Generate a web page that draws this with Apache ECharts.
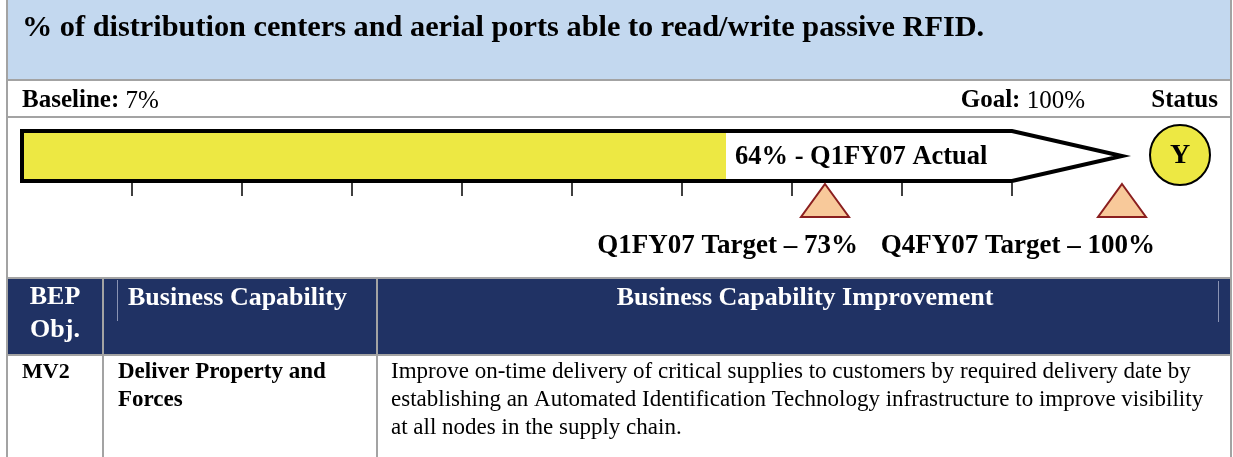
<!DOCTYPE html>
<html>
<head>
<meta charset="utf-8">
<script src="https://cdn.jsdelivr.net/npm/echarts@6/dist/echarts.min.js"></script>
<style>
  html, body { margin: 0; padding: 0; background: #fff; }
  #main { width: 1233px; height: 457px; }
</style>
</head>
<body>
<div id="main"></div>
<script>
var titleText = '% of distribution centers and aerial ports able to read/write passive RFID.';
var baselineValue = 7;
var goalValue = 100;
var actualValue = 64;
var actualLabel = '64% - Q1FY07 Actual';
var shaftEnd = 90; // where the arrow body stops and the point starts
var tickValues = [10, 20, 30, 40, 50, 60, 70, 80, 90];
var targetValues = [73, 100];
var targetLabels = ['Q1FY07 Target \u2013 73%', 'Q4FY07 Target \u2013 100%'];
var statusText = 'Y';
var headers = ['BEP\nObj.', 'Business Capability', 'Business Capability Improvement'];
var rowCells = ['MV2', 'Deliver Property and\nForces',
  'Improve on-time delivery of critical supplies to customers by required delivery date by\n' +
  'establishing an Automated Identification Technology infrastructure to improve visibility\n' +
  'at all nodes in the supply chain.'];

var FONT = '"Liberation Serif", "DejaVu Serif", serif';
var GRAY = '#a3a3a3';
var NAVY = '#203264';
var YELLOW = '#ede843';

var myChart = echarts.init(document.getElementById('main'));

function txt(text, x, y, size, opts) {
    opts = opts || {};
    return {
        type: 'text',
        z: 5,
        style: {
            text: text,
            x: x,
            y: y,
            fill: opts.fill || '#000',
            font: (opts.weight || 'bold') + ' ' + size + 'px ' + FONT,
            align: opts.align || 'left',
            textAlign: opts.align || 'left',
            verticalAlign: 'middle',
            textVerticalAlign: 'middle',
            lineHeight: opts.lineHeight || size * 1.2
        }
    };
}
function labelValue(label, value, x, y, size, align) {
    return {
        type: 'text', z: 5,
        style: {
            x: x, y: y, align: align, textAlign: align,
            verticalAlign: 'middle', textVerticalAlign: 'middle',
            text: '{b|' + label + ' }{r|' + value + '%}',
            rich: {
                b: { font: 'bold ' + size + 'px ' + FONT, fill: '#000' },
                r: { font: size + 'px ' + FONT, fill: '#000' }
            }
        }
    };
}
function hline(y, x1, x2, color, w) {
    return { type: 'line', z: 3, shape: { x1: x1, y1: y, x2: x2, y2: y },
        style: { stroke: color || GRAY, lineWidth: w || 2 } };
}
function vline(x, y1, y2, color, w) {
    return { type: 'line', z: 3, shape: { x1: x, y1: y1, x2: x, y2: y2 },
        style: { stroke: color || GRAY, lineWidth: w || 2 } };
}

var graphics = [
    // title band
    { type: 'rect', z: 1, shape: { x: 6, y: 0, width: 1225, height: 80 }, style: { fill: '#c3d8ef' } },
    // table header band
    { type: 'rect', z: 1, shape: { x: 6, y: 279, width: 1225, height: 76 }, style: { fill: NAVY } },
    hline(80, 6, 1232), hline(117, 6, 1232), hline(278, 6, 1232), hline(355, 6, 1232),
    vline(7, 0, 457), vline(1231, 0, 457),
    vline(103, 279, 457), vline(377, 279, 457),
    vline(117.5, 280, 321, '#8a93b3', 1), vline(1218.5, 281, 322, '#8a93b3', 1),
    txt(titleText, 22, 28, 30.3),
    labelValue('Baseline:', baselineValue, 22, 101, 25, 'left'),
    labelValue('Goal:', goalValue, 1085, 101, 25, 'right'),
    txt('Status', 1218, 101, 25, { align: 'right' }),
    // status circle
    { type: 'circle', z: 5, shape: { cx: 1180, cy: 155, r: 30 }, style: { fill: YELLOW, stroke: '#000', lineWidth: 2 } },
    txt(statusText, 1180, 156, 28, { align: 'center' }),
    // table header text
    txt(headers[0], 55, 314, 26, { align: 'center', fill: '#fff', lineHeight: 33 }),
    txt(headers[1], 128, 298, 26, { fill: '#fff' }),
    txt(headers[2], 805, 298, 26, { align: 'center', fill: '#fff' }),
    // data row
    txt(rowCells[0], 22, 372, 22),
    txt(rowCells[1], 118, 386, 23, { lineHeight: 28 }),
    txt(rowCells[2], 391, 400, 23, { weight: 'normal', lineHeight: 28 })
];

var option = {
    animation: false,
    grid: { left: 22, right: 111, top: 131, height: 50 },
    xAxis: { type: 'value', min: 0, max: 100, show: false },
    yAxis: { type: 'value', min: 0, max: 1, show: false },
    graphic: { elements: graphics },
    series: [
        {
            // arrow body, actual fill and its label
            type: 'custom',
            data: [[actualValue]],
            renderItem: function (params, api) {
                var x0 = api.coord([0, 0])[0];
                var xs = api.coord([shaftEnd, 0])[0];
                var xt = api.coord([100, 0])[0];
                var xa = api.coord([api.value(0), 0])[0];
                var yTop = api.coord([0, 1])[1];
                var yBot = api.coord([0, 0])[1];
                var yMid = (yTop + yBot) / 2;
                var pts = [[x0, yTop], [xs, yTop], [xt, yMid], [xs, yBot], [x0, yBot]];
                return {
                    type: 'group',
                    children: [
                        { type: 'polygon', shape: { points: pts }, style: { fill: '#fff', stroke: null } },
                        { type: 'rect', shape: { x: x0, y: yTop, width: xa - x0, height: yBot - yTop },
                            style: { fill: YELLOW } },
                        { type: 'polygon', shape: { points: pts },
                            style: { fill: null, stroke: '#000', lineWidth: 4, lineJoin: 'miter' } },
                        { type: 'text', style: { x: xa + 9, y: yMid + 1, text: actualLabel,
                            font: 'bold 26.5px ' + FONT, fill: '#000',
                            align: 'left', textAlign: 'left', verticalAlign: 'middle', textVerticalAlign: 'middle' } }
                    ]
                };
            }
        },
        {
            // scale ticks under the arrow
            type: 'custom',
            data: tickValues.map(function (v) { return [v]; }),
            renderItem: function (params, api) {
                var p = api.coord([api.value(0), 0]);
                return { type: 'line', shape: { x1: p[0], y1: p[1] + 2, x2: p[0], y2: p[1] + 15 },
                    style: { stroke: '#000', lineWidth: 1.5 } };
            }
        },
        {
            // target triangles with their labels
            type: 'custom',
            data: targetValues.map(function (v, i) { return [v, i]; }),
            renderItem: function (params, api) {
                var p = api.coord([api.value(0), 0]);
                var x = p[0], y = p[1];
                return {
                    type: 'group',
                    children: [
                        { type: 'polygon', shape: { points: [[x, y + 3], [x + 24, y + 36], [x - 24, y + 36]] },
                            style: { fill: '#f8c99a', stroke: '#8b1f1f', lineWidth: 2 } },
                        { type: 'text', style: { x: x + 33, y: y + 65, text: targetLabels[api.value(1)],
                            font: 'bold 27px ' + FONT, fill: '#000',
                            align: 'right', textAlign: 'right', verticalAlign: 'middle', textVerticalAlign: 'middle' } }
                    ]
                };
            }
        }
    ]
};
myChart.setOption(option);
</script>
</body>
</html>
